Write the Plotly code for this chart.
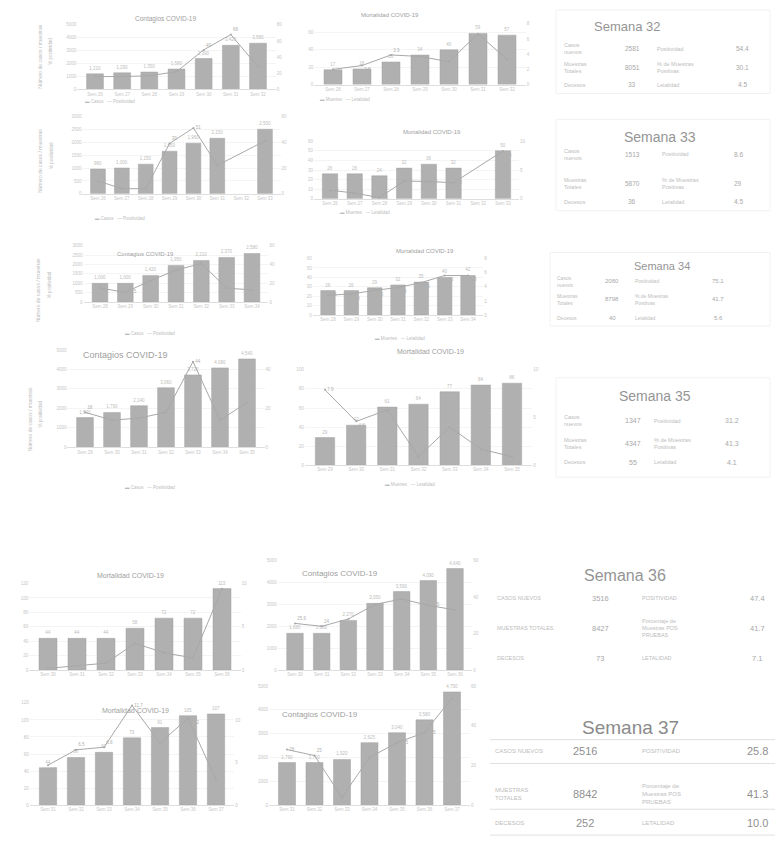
import plotly.graph_objects as go

W, H = 780, 853

# ---------------- weekly series ----------------
sem_32 = ["Sem 26", "Sem 27", "Sem 28", "Sem 29", "Sem 30", "Sem 31", "Sem 32"]
sem_33 = ["Sem 26", "Sem 27", "Sem 28", "Sem 29", "Sem 30", "Sem 31", "Sem 32", "Sem 33"]
sem_34 = ["Sem 28", "Sem 29", "Sem 30", "Sem 31", "Sem 32", "Sem 33", "Sem 34"]
sem_35 = ["Sem 29", "Sem 30", "Sem 31", "Sem 32", "Sem 33", "Sem 34", "Sem 35"]
sem_36 = ["Sem 30", "Sem 31", "Sem 32", "Sem 33", "Sem 34", "Sem 35", "Sem 36"]
sem_37 = ["Sem 31", "Sem 32", "Sem 33", "Sem 34", "Sem 35", "Sem 36", "Sem 37"]

contagios_32 = [1210, 1290, 1350, 1580, 2390, 3420, 3580]
positividad_32 = [16, 16, 17, 22, 49, 68, 28]
defunciones_32 = [17, 18, 26, 34, 40, 59, 57]
letalidad_32 = [2.0, 2.5, 3.9, 3.7, 3.0, 6.7, 3.3]

contagios_33 = [960, 1000, 1150, 1650, 1960, 2150, None, 2500]
positividad_33 = [10, 4, 4, 39, 51, 22, None, 41]
defunciones_33 = [26, 26, 24, 32, 36, 32, None, 50]
letalidad_33 = [1.5, 1.0, 0.2, 3.1, 3.0, 2.8, None, 8.3]

contagios_34 = [1000, 1000, 1420, 1950, 2210, 2370, 2580]
positividad_34 = [15, 10.5, 23, 34, 41, 15, 13]
defunciones_34 = [26, 26, 29, 32, 35, 40, 42]
letalidad_34 = [2.8, 3.0, 3.5, 3.9, 4.6, 5.6, 5.6]

contagios_35 = [1530, 1790, 2140, 3060, 3720, 4080, 4540]
positividad_35 = [18, 14, 15, 18, 44, 14, 23]
defunciones_35 = [29, 42, 61, 64, 77, 84, 86]
letalidad_35 = [7.9, 4.6, 5.8, 0.9, 4.0, 1.7, 0.9]

defunciones_36 = [44, 44, 44, 58, 72, 72, 113]
letalidad_36 = [0.2, 0.5, 0.8, 3.1, 2.0, 1.4, 9.4]
contagios_36 = [1680, 1680, 2270, 3050, 3590, 4090, 4640]
positividad_36 = [25.6, 24, 28, 36, 39, 35.5, 33]

defunciones_37 = [44, 56, 62, 79, 91, 105, 107]
letalidad_37 = [4.7, 6.5, 6.8, 11.7, 7.3, 10.2, 3.0]
contagios_37 = [1790, 1790, 1920, 2625, 3040, 3580, 4750]
positividad_37 = [28, 25, 4, 24, 31.5, 36.5, 54]

# ---------------- weekly summary tables ----------------
tabla_semanas = [32, 33, 34, 35, 36, 37]
casos_nuevos = ["2581", "1513", "2080", "1347", "3516", "2516"]
muestras_totales = ["8051", "5870", "8798", "4347", "8427", "8842"]
decesos = ["33", "36", "40", "55", "73", "252"]
positividad_tabla = ["54.4", "8.6", "75.1", "31.2", "47.4", "25.8"]
porcentaje_positivas = ["30.1", "29", "41.7", "41.3", "41.7", "41.3"]
letalidad_tabla = ["4.5", "4.5", "5.6", "4.1", "7.1", "10.0"]

BAR = "#b0b0b0"
LINE = "#a8a8a8"
TXT = "#bcbcbc"
TITLE = "#a0a0a0"

# chart panels: title, categories, bars, line, first/last bar centre (px), plot top/bottom (px), y max, y2 max
panels = [
    dict(t="Contagios COVID-19", cat=sem_32, b=contagios_32, l=positividad_32, c=(95, 258), y=(23, 88), m=5000, m2=80, tt=(165, 17), ts=6.5),
    dict(t="Mortalidad COVID-19", cat=sem_32, b=defunciones_32, l=letalidad_32, c=(333, 507), y=(22, 83), m=70, m2=8, tt=(390, 13), ts=6),
    dict(t=None, cat=sem_33, b=contagios_33, l=positividad_33, c=(98, 265), y=(115, 193), m=3000, m2=60, tt=None, ts=6),
    dict(t="Mortalidad COVID-19", cat=sem_33, b=defunciones_33, l=letalidad_33, c=(330, 503), y=(140, 198), m=60, m2=10, tt=(432, 131), ts=6),
    dict(t="Contagios COVID-19", cat=sem_34, b=contagios_34, l=positividad_34, c=(100, 252), y=(245, 302), m=3000, m2=60, tt=(145, 253), ts=6),
    dict(t="Mortalidad COVID-19", cat=sem_34, b=defunciones_34, l=letalidad_34, c=(328, 468), y=(258, 315), m=60, m2=8, tt=(425, 250), ts=6),
    dict(t="Contagios COVID-19", cat=sem_35, b=contagios_35, l=positividad_35, c=(85, 247), y=(350, 448), m=5000, m2=50, tt=(125, 355), ts=9),
    dict(t="Mortalidad COVID-19", cat=sem_35, b=defunciones_35, l=letalidad_35, c=(325, 512), y=(370, 466), m=100, m2=10, tt=(430, 352), ts=7),
    dict(t="Mortalidad COVID-19", cat=sem_36, b=defunciones_36, l=letalidad_36, c=(48, 222), y=(585, 672), m=120, m2=10, tt=(130, 577), ts=7),
    dict(t="Contagios COVID-19", cat=sem_36, b=contagios_36, l=positividad_36, c=(295, 455), y=(562, 672), m=5000, m2=60, tt=(340, 575), ts=8),
    dict(t="Mortalidad COVID-19", cat=sem_37, b=defunciones_37, l=letalidad_37, c=(48, 216), y=(705, 808), m=120, m2=12, tt=(135, 713), ts=7),
    dict(t="Contagios COVID-19", cat=sem_37, b=contagios_37, l=positividad_37, c=(287, 452), y=(688, 808), m=5000, m2=60, tt=(320, 717), ts=8),
]

fig = go.Figure()
layout = {}
annotations = []
shapes = []


def ax(name, n):
    return name if n == 1 else f"{name}{n}"


def note(xpx, ypx, text, size, color, xanchor="center", **kw):
    annotations.append(dict(x=xpx / W, y=1 - ypx / H, xref="paper", yref="paper", text=text,
                            showarrow=False, xanchor=xanchor, yanchor="middle",
                            font=dict(size=size, color=color, family="Liberation Sans"), **kw))


def label_side(bv, lv, top, bot, m, m2):
    """Keep a line label clear of the value printed above the bar."""
    if bv is None or lv is None:
        return "middle right"
    h = bot - top
    bar_top = bot - bv / m * h
    pt = bot - lv / m2 * h
    if pt > bar_top + 4 or pt < bar_top - 13:
        return "middle right"
    if pt < bar_top - 4:
        return "top right"
    return "bottom right"


for k, p in enumerate(panels):
    xi, yi, yj = k + 1, 2 * k + 1, 2 * k + 2
    n = len(p["cat"])
    c0, c1 = p["c"]
    step = (c1 - c0) / (n - 1)
    x0, x1 = c0 - 0.65 * step, c1 + 0.65 * step
    top, bot = p["y"]
    xdom = [x0 / W, x1 / W]
    ydom = [1 - bot / H, 1 - top / H]
    positions = [label_side(bv, lv, top, bot, p["m"], p["m2"]) for bv, lv in zip(p["b"], p["l"])]

    fig.add_trace(go.Bar(
        x=p["cat"], y=p["b"], xaxis=ax("x", xi), yaxis=ax("y", yi),
        marker=dict(color=BAR, line=dict(color="#a2a2a2", width=0.5)), width=0.62,
        text=[("" if v is None else f"{v:,}") for v in p["b"]], textposition="outside",
        textfont=dict(size=4.5, color=TXT), cliponaxis=False, showlegend=False,
    ))
    fig.add_trace(go.Scatter(
        x=p["cat"], y=p["l"], xaxis=ax("x", xi), yaxis=ax("y", yj), connectgaps=True,
        mode="lines+markers+text", line=dict(color=LINE, width=1), marker=dict(size=2, color=LINE),
        text=[("" if v is None else f"{v}") for v in p["l"]], textposition=positions,
        textfont=dict(size=4.5, color="#b0b0b0"), cliponaxis=False, showlegend=False,
    ))

    tick = dict(size=4.5, color="#c6c6c6")
    layout[ax("xaxis", xi)] = dict(domain=xdom, anchor=ax("y", yi), range=[-0.65, n - 0.35],
                                   type="category", tickfont=tick, showline=True, linecolor="#dedede",
                                   linewidth=0.6, ticks="", showgrid=False, fixedrange=True)
    layout[ax("yaxis", yi)] = dict(domain=ydom, anchor=ax("x", xi), range=[0, p["m"]], tickfont=tick,
                                   showgrid=True, gridcolor="#f4f4f4", gridwidth=0.5, zeroline=False,
                                   nticks=7, ticks="")
    layout[ax("yaxis", yj)] = dict(overlaying=ax("y", yi), anchor=ax("x", xi), side="right",
                                   range=[0, p["m2"]], tickfont=tick, showgrid=False,
                                   zeroline=False, nticks=5, ticks="")

    if p["t"]:
        note(p["tt"][0], p["tt"][1], p["t"], p["ts"], TITLE)

# rotated axis captions on the left-hand contagion panels
for xpx, ypx in [(40, 55), (40, 160), (38, 290), (30, 420)]:
    note(xpx, ypx, "Número de casos / muestras", 5, TXT, textangle=-90)
    note(xpx + 11, ypx - 5, "% positividad", 4.5, TXT, textangle=-90)

# legend captions under the upper panels
for xpx, ypx, txt in [(110, 100, "▬ Casos   — Positividad"), (345, 98, "▬ Muertes   — Letalidad"),
                      (120, 218, "▬ Casos   — Positividad"), (365, 212, "▬ Muertes   — Letalidad"),
                      (150, 333, "▬ Casos   — Positividad"), (400, 338, "▬ Muertes   — Letalidad"),
                      (150, 488, "▬ Casos   — Positividad"), (410, 485, "▬ Muertes   — Letalidad")]:
    note(xpx, ypx, txt, 4.5, TXT)

# weekly summary tables
tables = [
    dict(tt=(627, 25), ts=13, cols=(562, 632, 655, 742), rows=(47, 66, 83), fs=5.5, vs=6.5, upper=False, box=(556, 8, 770, 92)),
    dict(tt=(660, 136), ts=14, cols=(562, 632, 660, 738), rows=(153, 183, 201), fs=5.5, vs=6.5, upper=False, box=(556, 118, 770, 210)),
    dict(tt=(662, 266), ts=11, cols=(555, 612, 633, 718), rows=(281, 299, 318), fs=5, vs=6, upper=False, box=(550, 252, 770, 326)),
    dict(tt=(655, 396), ts=14, cols=(562, 633, 652, 732), rows=(421, 444, 463), fs=5.5, vs=7, upper=False, box=(556, 378, 770, 478)),
    dict(tt=(625, 577), ts=16, cols=(495, 600, 640, 757), rows=(600, 630, 660), fs=5.5, vs=7.5, upper=True, box=None),
    dict(tt=(630, 730), ts=19, cols=(493, 585, 640, 757), rows=(753, 797, 826), fs=6, vs=11, upper=True, box=None),
]

for i, t in enumerate(tables):
    col = "#8a8a8a" if i == 5 else "#959595"
    note(t["tt"][0], t["tt"][1], f"Semana {tabla_semanas[i]}", t["ts"], col)
    if t["upper"]:
        l1 = ["CASOS NUEVOS", "MUESTRAS<br>TOTALES" if i == 5 else "MUESTRAS TOTALES", "DECESOS"]
        l2 = ["POSITIVIDAD", "Porcentaje de<br>Muestras POS<br>PRUEBAS", "LETALIDAD"]
    else:
        l1 = ["Casos<br>nuevos", "Muestras<br>Totales", "Decesos"]
        l2 = ["Positividad", "% de Muestras<br>Positivas", "Letalidad"]
    v1 = [casos_nuevos[i], muestras_totales[i], decesos[i]]
    v2 = [positividad_tabla[i], porcentaje_positivas[i], letalidad_tabla[i]]
    cx = t["cols"]
    vcol = "#8f8f8f" if i == 5 else "#a8a8a8"
    for r, ypx in enumerate(t["rows"]):
        note(cx[0], ypx, l1[r], t["fs"], TXT, xanchor="left", align="left")
        note(cx[1], ypx, v1[r], t["vs"], vcol)
        note(cx[2], ypx, l2[r], t["fs"], TXT, xanchor="left", align="left")
        note(cx[3], ypx, v2[r], t["vs"], vcol)
    if t["box"]:
        bx0, by0, bx1, by1 = t["box"]
        shapes.append(dict(type="rect", xref="paper", yref="paper", x0=bx0 / W, x1=bx1 / W,
                           y0=1 - by1 / H, y1=1 - by0 / H, line=dict(color="#f2f2f2", width=1)))

# rules between the rows of the last table
for ypx in (742, 766, 812, 838):
    shapes.append(dict(type="line", xref="paper", yref="paper", x0=490 / W, x1=775 / W,
                       y0=1 - ypx / H, y1=1 - ypx / H, line=dict(color="#d8d8d8", width=0.8)))

fig.update_layout(
    width=W, height=H, margin=dict(l=0, r=0, t=0, b=0),
    paper_bgcolor="white", plot_bgcolor="white", showlegend=False,
    font=dict(family="Liberation Sans", color=TXT),
    annotations=annotations, shapes=shapes, **layout,
)

fig.write_html("out.html")
